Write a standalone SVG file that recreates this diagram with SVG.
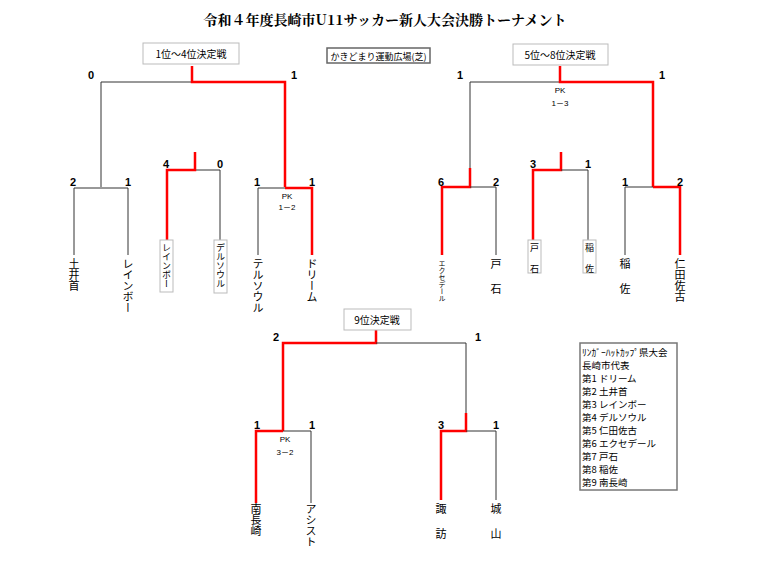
<svg xmlns="http://www.w3.org/2000/svg" width="769" height="571" viewBox="0 0 769 571">
<style>
text{font-family:"Noto Sans CJK JP","Liberation Sans",sans-serif;fill:#000}
.t{font-family:"Noto Serif CJK JP","Liberation Serif","Noto Sans CJK JP",serif;font-size:14px;font-weight:bold}
.s{font-family:"Liberation Sans","Noto Sans CJK JP",sans-serif;font-size:11px;font-weight:bold;text-anchor:middle}
.pk{font-size:8px;text-anchor:middle;font-family:"Liberation Sans","Noto Sans CJK JP",sans-serif}
.lb{font-size:10px;text-anchor:middle}
.v{writing-mode:vertical-rl;font-size:11px}
.vs{writing-mode:vertical-rl;font-size:7px}
.vb{writing-mode:vertical-rl;font-size:9px}
.lg{font-size:9.5px}
.k{fill:none;stroke:#333;stroke-width:1}
.r{fill:none;stroke:#f00;stroke-width:2.5}
.bx{fill:#fff;stroke:#bbb;stroke-width:1}
</style>
<rect width="769" height="571" fill="#fff"/>
<text class="t" x="385" y="25" text-anchor="middle">令和４年度長崎市U11サッカー新人大会決勝トーナメント</text>

<g id="connectors">
<!-- 1-4 -->
<path class="k" d="M101,187V82H192"/>
<path class="r" d="M192,66V82H285V187"/>
<path class="k" d="M74,255V188H128V255"/>
<path class="k" d="M195,170H220V240"/>
<path class="r" d="M195,152V170H167V240"/>
<path class="k" d="M258,255V188H285"/>
<path class="r" d="M285,188H312V255"/>
<!-- 5-8 -->
<path class="k" d="M470,168V82H560"/>
<path class="r" d="M560,66V82H653V187"/>
<path class="r" d="M470,168V187H442V255"/>
<path class="k" d="M470,187H496V255"/>
<path class="r" d="M561,152V170H533V240"/>
<path class="k" d="M561,170H588V240"/>
<path class="k" d="M625,255V187H653"/>
<path class="r" d="M653,187H680V255"/>
<!-- 9 -->
<path class="r" d="M376,330V343H283V431"/>
<path class="k" d="M376,343H466V413"/>
<path class="r" d="M283,431H256V503"/>
<path class="k" d="M283,431H311V503"/>
<path class="r" d="M466,413V431H441V500"/>
<path class="k" d="M466,431H496V500"/>
</g>

<g id="title-boxes">
<rect class="bx" x="143" y="43" width="96" height="21"/>
<text class="lb" x="191" y="58">1位～4位決定戦</text>
<rect class="bx" x="513" y="44" width="95" height="21"/>
<text class="lb" x="560" y="59">5位～8位決定戦</text>
<rect class="bx" x="344" y="309" width="67" height="21"/>
<text class="lb" x="377" y="324">9位決定戦</text>
<rect x="327" y="48" width="103" height="15" fill="#fff" stroke="#666" stroke-width="1.5"/>
<text x="378.5" y="59.5" font-size="9" text-anchor="middle">かきどまり運動広場(芝)</text>
</g>

<g id="scores">
<text class="s" x="91" y="79">0</text><text class="s" x="294" y="79">1</text>
<text class="s" x="73" y="186">2</text><text class="s" x="128" y="186">1</text>
<text class="s" x="166" y="168">4</text><text class="s" x="220" y="168">0</text>
<text class="s" x="257" y="186">1</text><text class="s" x="312" y="186">1</text>
<text class="pk" x="287" y="199">PK</text><text class="pk" x="287" y="210">1－2</text>
<text class="s" x="460" y="79">1</text><text class="s" x="662" y="79">1</text>
<text class="pk" x="560" y="93">PK</text><text class="pk" x="560" y="106">1－3</text>
<text class="s" x="441" y="186">6</text><text class="s" x="496" y="186">2</text>
<text class="s" x="533" y="168">3</text><text class="s" x="588" y="168">1</text>
<text class="s" x="625" y="186">1</text><text class="s" x="680" y="186">2</text>
<text class="s" x="276" y="341">2</text><text class="s" x="478" y="341">1</text>
<text class="s" x="257" y="429">1</text><text class="s" x="312" y="429">1</text>
<text class="pk" x="285" y="442">PK</text><text class="pk" x="285" y="455">3－2</text>
<text class="s" x="441" y="429">3</text><text class="s" x="496" y="429">1</text>
</g>

<g id="teams">
<text class="v" x="74" y="258">土井首</text>
<text class="v" x="128" y="258" font-size="10">レインボー</text>
<rect class="bx" x="160" y="240" width="13" height="52"/>
<text class="vb" x="166.5" y="243">レインボー</text>
<rect class="bx" x="214" y="240" width="13" height="53"/>
<text class="vb" x="220.5" y="243">デルソウル</text>
<text class="v" x="258" y="258" font-size="10">テルソウル</text>
<text class="v" x="312" y="258">ドリーム</text>
<text class="vs" x="442" y="260">エクセデール</text>
<text class="v" x="496" y="258">戸</text><text class="v" x="496" y="283">石</text>
<rect class="bx" x="528" y="240" width="13" height="33"/>
<text class="vb" x="534.5" y="243">戸</text><text class="vb" x="534.5" y="264">石</text>
<rect class="bx" x="583" y="240" width="13" height="33"/>
<text class="vb" x="589.5" y="243">稲</text><text class="vb" x="589.5" y="264">佐</text>
<text class="v" x="625" y="258">稲</text><text class="v" x="625" y="283">佐</text>
<text class="v" x="680" y="258">仁田佐古</text>
<text class="v" x="256" y="503">南長崎</text>
<text class="v" x="311" y="503">アシスト</text>
<text class="v" x="441" y="503">諏</text><text class="v" x="441" y="528">訪</text>
<text class="v" x="496" y="503">城</text><text class="v" x="496" y="528">山</text>
</g>

<g id="legend">
<rect x="580" y="343" width="97" height="147" fill="#fff" stroke="#777" stroke-width="1.5"/>
<text class="lg" x="582" y="356">ﾘﾝｶﾞｰﾊｯﾄｶｯﾌﾟ県大会</text>
<text class="lg" x="582" y="369">長崎市代表</text>
<text class="lg" x="582" y="382">第1  ドリーム</text>
<text class="lg" x="582" y="395">第2  土井首</text>
<text class="lg" x="582" y="408">第3  レインボー</text>
<text class="lg" x="582" y="421">第4  デルソウル</text>
<text class="lg" x="582" y="434">第5  仁田佐古</text>
<text class="lg" x="582" y="447">第6  エクセデール</text>
<text class="lg" x="582" y="460">第7  戸石</text>
<text class="lg" x="582" y="473">第8  稲佐</text>
<text class="lg" x="582" y="486">第9  南長崎</text>
</g>
</svg>
